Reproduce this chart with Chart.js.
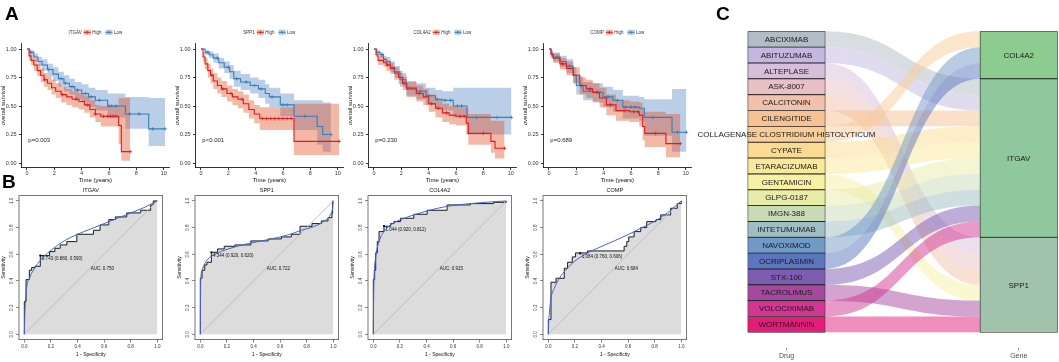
<!DOCTYPE html>
<html>
<head>
<meta charset="utf-8">
<title>Survival, ROC and drug-gene panels</title>
<script src="https://cdn.jsdelivr.net/npm/chart.js@4.4.1/dist/chart.umd.min.js"></script>
<style>
  html, body { margin: 0; padding: 0; background: #fff; }
  #fig { position: relative; width: 1059px; height: 362px; overflow: hidden; font-family: "Liberation Sans", Arial, sans-serif; }
  #fig canvas { position: absolute; }
  .tag { position: absolute; font-weight: bold; font-size: 19px; line-height: 19px; color: #000; }
</style>
</head>
<body>
<div id="fig">
  <canvas id="km0" width="174" height="190" style="left:0px;top:0px"></canvas>
  <canvas id="km1" width="174" height="190" style="left:173.7px;top:0px"></canvas>
  <canvas id="km2" width="174" height="190" style="left:347px;top:0px"></canvas>
  <canvas id="km3" width="174" height="190" style="left:522px;top:0px"></canvas>
  <canvas id="roc0" width="170" height="177" style="left:0px;top:185px"></canvas>
  <canvas id="roc1" width="170" height="177" style="left:175.5px;top:185px"></canvas>
  <canvas id="roc2" width="170" height="177" style="left:348.5px;top:185px"></canvas>
  <canvas id="roc3" width="170" height="177" style="left:523.5px;top:185px"></canvas>
  <canvas id="sankey" width="369" height="362" style="left:690px;top:0px"></canvas>
  <div class="tag" style="left:5px;top:4px">A</div>
  <div class="tag" style="left:2px;top:172px">B</div>
  <div class="tag" style="left:716px;top:4px">C</div>
</div>
<script>
// ---- panel A : Kaplan-Meier, rows are [time, survival, lower, upper]
const kmGenes = ["ITGAV", "SPP1", "COL4A2", "COMP"];
const kmPValues = ["p=0.003", "p<0.001", "p=0.230", "p=0.689"];
const timeTicks = [0, 2, 4, 6, 8, 10];
const survTicks = [0, 0.25, 0.5, 0.75, 1];

const itgavHigh = [[0,1,1,1],[0.15,0.94,0.9,0.98],[0.3,0.9,0.86,0.95],[0.5,0.86,0.81,0.91],[0.75,0.81,0.76,0.87],
  [1.0,0.77,0.71,0.83],[1.25,0.73,0.67,0.79],[1.5,0.7,0.64,0.76],[1.8,0.66,0.6,0.73],[2.1,0.63,0.57,0.7],
  [2.5,0.6,0.53,0.67],[2.9,0.58,0.51,0.65],[3.3,0.56,0.49,0.63],[3.8,0.54,0.47,0.61],[4.2,0.51,0.44,0.59],
  [4.6,0.47,0.4,0.55],[5.0,0.43,0.36,0.51],[5.4,0.41,0.32,0.5],[6.7,0.33,0.17,0.57],[6.9,0.1,0.02,0.57],[7.55,0.1,0.02,0.57]];
const itgavLow = [[0,1,1,1],[0.2,0.97,0.95,0.99],[0.5,0.93,0.89,0.96],[0.8,0.89,0.85,0.93],[1.1,0.86,0.81,0.91],
  [1.5,0.82,0.76,0.87],[1.9,0.78,0.72,0.84],[2.3,0.74,0.67,0.8],[2.7,0.7,0.63,0.77],[3.1,0.67,0.6,0.74],
  [3.5,0.64,0.56,0.71],[4.0,0.61,0.53,0.69],[4.5,0.58,0.49,0.66],[5.0,0.55,0.46,0.64],[5.9,0.5,0.4,0.61],
  [7.2,0.43,0.3,0.58],[8.9,0.3,0.15,0.57],[10.1,0.3,0.15,0.57]];
const spp1High = [[0,1,1,1],[0.15,0.93,0.89,0.97],[0.3,0.87,0.82,0.92],[0.5,0.81,0.75,0.87],[0.7,0.77,0.7,0.83],
  [0.9,0.72,0.65,0.79],[1.2,0.68,0.61,0.75],[1.5,0.65,0.58,0.72],[1.9,0.61,0.54,0.68],[2.3,0.58,0.51,0.65],
  [2.7,0.56,0.48,0.63],[3.1,0.52,0.44,0.6],[3.5,0.47,0.39,0.55],[3.9,0.43,0.35,0.51],[4.3,0.39,0.29,0.49],
  [6.8,0.19,0.07,0.52],[10.1,0.19,0.07,0.52]];
const spp1Low = [[0,1,1,1],[0.3,0.97,0.95,0.99],[0.6,0.95,0.92,0.98],[0.9,0.92,0.88,0.96],[1.3,0.88,0.83,0.92],
  [1.7,0.84,0.79,0.89],[2.1,0.8,0.74,0.86],[2.4,0.74,0.67,0.81],[2.9,0.71,0.64,0.78],[3.6,0.68,0.61,0.75],
  [4.2,0.65,0.57,0.73],[4.7,0.61,0.52,0.69],[5.0,0.58,0.49,0.66],[5.8,0.51,0.41,0.61],[6.8,0.41,0.29,0.55],
  [8.5,0.32,0.16,0.55],[8.9,0.25,0.1,0.53],[9.5,0.25,0.1,0.53]];
const col4a2High = [[0,1,1,1],[0.15,0.95,0.93,0.98],[0.3,0.9,0.86,0.94],[0.7,0.88,0.84,0.92],[0.9,0.86,0.81,0.9],
  [1.2,0.83,0.78,0.88],[1.5,0.79,0.73,0.84],[1.8,0.75,0.69,0.81],[2.1,0.7,0.64,0.76],[2.4,0.65,0.58,0.71],
  [3.1,0.61,0.54,0.68],[3.6,0.58,0.51,0.65],[4.0,0.52,0.45,0.6],[4.5,0.48,0.4,0.56],[5.0,0.44,0.36,0.52],
  [5.5,0.42,0.34,0.5],[6.0,0.41,0.33,0.49],[6.75,0.35,0.25,0.48],[6.9,0.26,0.16,0.43],[8.55,0.19,0.09,0.37],
  [8.85,0.13,0.04,0.37],[9.55,0.13,0.04,0.37]];
const col4a2Low = [[0,1,1,1],[0.2,0.97,0.95,0.99],[0.45,0.95,0.92,0.97],[0.7,0.91,0.88,0.94],[0.9,0.89,0.85,0.93],
  [1.2,0.84,0.8,0.89],[1.5,0.8,0.75,0.85],[1.9,0.73,0.67,0.79],[2.35,0.66,0.59,0.72],[3.1,0.63,0.56,0.7],
  [3.8,0.59,0.51,0.66],[4.5,0.56,0.48,0.64],[5.0,0.55,0.46,0.63],[5.8,0.5,0.4,0.66],[6.8,0.4,0.25,0.66],
  [10.05,0.4,0.25,0.66]];
const compHigh = [[0,1,1,1],[0.15,0.95,0.92,0.98],[0.3,0.92,0.88,0.96],[0.8,0.87,0.82,0.92],[1.28,0.83,0.77,0.89],
  [1.77,0.77,0.7,0.84],[2.25,0.68,0.6,0.75],[2.73,0.65,0.57,0.73],[3.2,0.62,0.54,0.7],[3.7,0.57,0.49,0.66],
  [4.2,0.51,0.42,0.6],[4.9,0.46,0.37,0.55],[5.9,0.45,0.36,0.54],[6.6,0.42,0.32,0.53],[6.85,0.32,0.2,0.47],
  [7.0,0.26,0.14,0.45],[8.55,0.17,0.05,0.43],[9.6,0.17,0.05,0.43]];
const compLow = [[0,1,1,1],[0.15,0.96,0.93,0.99],[0.3,0.93,0.89,0.97],[0.8,0.89,0.84,0.94],[1.28,0.85,0.79,0.91],
  [1.77,0.77,0.7,0.84],[2.0,0.68,0.6,0.76],[2.5,0.63,0.55,0.71],[3.2,0.62,0.53,0.7],[3.95,0.58,0.49,0.67],
  [4.67,0.55,0.45,0.64],[5.4,0.49,0.39,0.59],[6.6,0.48,0.37,0.58],[6.97,0.4,0.24,0.56],[9.0,0.27,0.1,0.65],
  [10.05,0.27,0.1,0.65]];

// censoring times (marks sit on the curve)
const itgavHighCens = [1.3, 2.6, 3.6, 4.4, 5.0, 5.6, 5.9, 6.1, 6.3, 6.5, 7.55];
const itgavLowCens = [0.3, 1.6, 2.5, 2.8, 3.3, 3.7, 4.3, 4.7, 5.3, 6.0, 6.2, 6.5, 7.5, 8.2, 9.2, 10.1];
const spp1HighCens = [0.8, 1.6, 2.2, 3.0, 4.5, 4.8, 5.1, 5.4, 5.7, 6.0, 6.3, 6.6, 10.1];
const spp1LowCens = [0.5, 1.2, 2.0, 2.6, 3.3, 3.9, 4.4, 5.2, 6.0, 6.3, 7.6, 9.5];
const col4a2HighCens = [1.0, 2.2, 3.3, 4.2, 4.7, 5.3, 6.3, 6.6, 8.0, 9.55];
const col4a2LowCens = [0.6, 1.5, 2.6, 3.4, 4.0, 4.6, 5.2, 5.6, 6.1, 6.4, 7.5, 9.0, 10.05];
const compHighCens = [1.0, 2.4, 3.0, 3.5, 4.5, 5.5, 6.2, 6.5, 7.8, 9.6];
const compLowCens = [0.6, 1.5, 2.3, 3.0, 3.6, 4.3, 5.0, 5.6, 6.0, 6.3, 7.6, 9.4, 10.05];

// ---- panel B : ROC, rows are [1 - specificity, sensitivity]
const rocGenes = ["ITGAV", "SPP1", "COL4A2", "COMP"];
const rocTicks = [0, 0.2, 0.4, 0.6, 0.8, 1.0];
const rocDiagonal = [[0, 0], [1, 1]];
const itgavRocStep = [[0,0],[0,0.245],[0.013,0.41],[0.038,0.48],[0.055,0.5],[0.08,0.51],[0.12,0.59],[0.19,0.62],
  [0.23,0.645],[0.27,0.67],[0.32,0.695],[0.395,0.75],[0.52,0.78],[0.57,0.82],[0.635,0.86],[0.685,0.88],
  [0.77,0.91],[0.875,0.93],[0.95,0.97],[0.97,1.0],[1,1]];
const spp1RocStep = [[0,0],[0,0.42],[0.013,0.48],[0.033,0.52],[0.05,0.54],[0.083,0.615],[0.13,0.64],[0.18,0.66],
  [0.26,0.67],[0.38,0.7],[0.51,0.715],[0.61,0.73],[0.685,0.75],[0.75,0.81],[0.84,0.83],[0.91,0.85],
  [0.96,0.875],[0.99,0.91],[0.995,1.0],[1,1]];
const col4a2RocStep = [[0,0],[0,0.41],[0.01,0.48],[0.018,0.61],[0.03,0.695],[0.043,0.77],[0.08,0.81],[0.13,0.83],
  [0.155,0.845],[0.205,0.87],[0.305,0.9],[0.405,0.93],[0.555,0.97],[0.73,0.98],[0.905,0.99],[1,1]];
const compRocStep = [[0,0],[0,0.11],[0.02,0.39],[0.058,0.42],[0.12,0.495],[0.145,0.54],[0.18,0.58],[0.205,0.61],
  [0.295,0.625],[0.57,0.66],[0.59,0.695],[0.605,0.73],[0.645,0.77],[0.695,0.8],[0.74,0.845],[0.81,0.86],
  [0.845,0.895],[0.92,0.945],[0.97,0.98],[1,1]];
const itgavRocSmooth = [[0,0],[0.004,0.15],[0.013,0.31],[0.043,0.43],[0.068,0.48],[0.1,0.53],[0.15,0.585],
  [0.2,0.63],[0.3,0.7],[0.4,0.75],[0.5,0.79],[0.6,0.83],[0.7,0.87],[0.8,0.91],[0.9,0.95],[1,1]];
const spp1RocSmooth = [[0,0],[0.001,0.2],[0.003,0.4],[0.013,0.48],[0.033,0.53],[0.058,0.565],[0.11,0.6],
  [0.21,0.64],[0.36,0.68],[0.51,0.71],[0.66,0.745],[0.76,0.78],[0.86,0.81],[0.94,0.855],[0.98,0.9],[0.995,0.95],[1,1]];
const col4a2RocSmooth = [[0,0],[0.002,0.25],[0.005,0.41],[0.018,0.58],[0.043,0.695],[0.08,0.77],[0.13,0.82],
  [0.205,0.86],[0.305,0.895],[0.405,0.925],[0.555,0.96],[0.73,0.98],[0.87,0.992],[1,1]];
const compRocSmooth = [[0,0],[0.002,0.08],[0.008,0.16],[0.02,0.27],[0.045,0.345],[0.083,0.42],[0.13,0.48],
  [0.195,0.545],[0.295,0.61],[0.38,0.65],[0.495,0.7],[0.595,0.745],[0.695,0.795],[0.795,0.845],[0.895,0.91],[1,1]];
const rocThrX = [0.12, 0.083, 0.08, 0.24];
const rocThrY = [0.59, 0.615, 0.812, 0.606];
const rocThrLabels = ["0.743 (0.880, 0.590)", "4.344 (0.920, 0.620)", "1.044 (0.920, 0.812)", "1.084 (0.760, 0.606)"];
const rocAucLabels = ["AUC: 0.750", "AUC: 0.722", "AUC: 0.915", "AUC: 0.684"];

// ---- panel C : drug -> gene alluvial
const drugs = ["ABCIXIMAB", "ABITUZUMAB", "ALTEPLASE", "ASK-8007", "CALCITONIN", "CILENGITIDE",
  "COLLAGENASE CLOSTRIDIUM HISTOLYTICUM", "CYPATE", "ETARACIZUMAB", "GENTAMICIN", "GLPG-0187", "IMGN-388",
  "INTETUMUMAB", "NAVOXIMOD", "OCRIPLASMIN", "STX-100", "TACROLIMUS", "VOLOCIXIMAB", "WORTMANNIN"];
const drugGene = ["ITGAV", "ITGAV", "SPP1", "SPP1", "SPP1", "ITGAV", "COL4A2", "ITGAV", "ITGAV", "SPP1",
  "ITGAV", "ITGAV", "ITGAV", "COL4A2", "COL4A2", "ITGAV", "SPP1", "ITGAV", "SPP1"];
const genes = ["COL4A2", "ITGAV", "SPP1"];
const axisNames = ["Drug", "Gene"];
const drugColors = ["#b2bcc6", "#c4b7df", "#d7bfdb", "#e9c0c4", "#f2c1ab", "#f7c293", "#f9cd98", "#fbdb92",
  "#fbe89c", "#f8f1a4", "#e8eca9", "#c9dab7", "#9ebec4", "#7199c6", "#5c75bf", "#7b5cb1", "#a5499f",
  "#d23592", "#e31c79"];
const geneColors = ["#8ccc8e", "#90c89d", "#a2c3ab"];

const FONT = '"Liberation Sans", Arial, sans-serif';
Chart.defaults.font.family = FONT;
Chart.defaults.color = "#333";

const RED = "#E41A1C", BLUE = "#377EB8";
const RED_BAND = "rgba(225, 70, 20, 0.38)", BLUE_BAND = "rgba(49, 106, 184, 0.33)";

function survAt(rows, t) {
  let s = 1;
  for (const r of rows) if (r[0] <= t) s = r[1];
  return s;
}

function groupSets(rows, cens, line, band) {
  const common = { stepped: true, pointRadius: 0, tension: 0 };
  return [
    { ...common, data: rows.map(r => ({ x: r[0], y: r[2] })), borderColor: "transparent", borderWidth: 1, fill: false, order: 5 },
    { ...common, data: rows.map(r => ({ x: r[0], y: r[3] })), borderColor: "transparent", borderWidth: 1, fill: "-1", backgroundColor: band, order: 5 },
    { ...common, data: rows.map(r => ({ x: r[0], y: r[1] })), borderColor: line, borderWidth: 1.1, fill: false, order: 2 },
    { data: cens.map(t => ({ x: t, y: survAt(rows, t) })), showLine: false, pointStyle: "cross",
      pointRadius: 1.8, pointBorderColor: line, pointBorderWidth: 0.8, order: 1 }
  ];
}

// legend row + p value, drawn on top of the KM plot
const kmDecor = {
  id: "kmDecor",
  afterDraw(chart, args, o) {
    const { ctx, chartArea: a, scales: { x, y } } = chart;
    ctx.save();
    ctx.font = "4.5px " + FONT;
    ctx.textBaseline = "middle";
    ctx.textAlign = "left";
    const icon = 7;
    const wT = ctx.measureText(o.gene).width, wH = ctx.measureText("High").width, wL = ctx.measureText("Low").width;
    const total = wT + 2 + icon + 1.5 + wH + 4 + icon + 1.5 + wL;
    let cx = (a.left + a.right) / 2 - total / 2;
    const cy = 32.3;
    ctx.fillStyle = "#333";
    ctx.fillText(o.gene, cx, cy);
    cx += wT + 2;
    [["High", RED, RED_BAND, wH], ["Low", BLUE, BLUE_BAND, wL]].forEach(([lab, col, band, w]) => {
      ctx.fillStyle = band;
      ctx.fillRect(cx, cy - 2.6, icon, 5.2);
      ctx.strokeStyle = col;
      ctx.lineWidth = 1;
      ctx.beginPath();
      ctx.moveTo(cx, cy); ctx.lineTo(cx + icon, cy);
      ctx.moveTo(cx + icon / 2, cy - 1.5); ctx.lineTo(cx + icon / 2, cy + 1.5);
      ctx.stroke();
      ctx.fillStyle = "#333";
      ctx.fillText(lab, cx + icon + 1.5, cy);
      cx += icon + 1.5 + w + 4;
    });
    ctx.font = "6px " + FONT;
    ctx.fillStyle = "#222";
    ctx.fillText(o.p, x.getPixelForValue(0.1), y.getPixelForValue(0.2));
    ctx.restore();
  }
};

const kmRows = [[itgavHigh, itgavLow], [spp1High, spp1Low], [col4a2High, col4a2Low], [compHigh, compLow]];
const kmCens = [[itgavHighCens, itgavLowCens], [spp1HighCens, spp1LowCens], [col4a2HighCens, col4a2LowCens], [compHighCens, compLowCens]];

kmGenes.forEach((gene, i) => {
  const axisGrid = { display: true, drawOnChartArea: false, drawTicks: true, tickLength: 2.5, color: "#000", lineWidth: 0.8 };
  new Chart(document.getElementById("km" + i), {
    type: "line",
    data: {
      datasets: [
        ...groupSets(kmRows[i][0], kmCens[i][0], RED, RED_BAND),
        ...groupSets(kmRows[i][1], kmCens[i][1], BLUE, BLUE_BAND)
      ]
    },
    options: {
      animation: false, responsive: false, devicePixelRatio: 1,
      layout: { padding: { top: 43.3, right: 4.5, bottom: 5.4, left: 0 } },
      plugins: { legend: { display: false }, tooltip: { enabled: false }, kmDecor: { gene: gene, p: kmPValues[i] } },
      scales: {
        x: {
          type: "linear", min: -0.4, max: 10.4,
          afterBuildTicks: s => { s.ticks = timeTicks.map(v => ({ value: v })); },
          afterFit: s => { s.height = 17; },
          grid: axisGrid, border: { display: true, color: "#000", width: 0.8 },
          ticks: { font: { size: 5.5 }, color: "#333", padding: 0.5, maxRotation: 0, autoSkip: false },
          title: { display: true, text: "Time (years)", font: { size: 6 }, color: "#111", padding: { top: 0, bottom: 1 } }
        },
        y: {
          type: "linear", min: -0.04, max: 1.05,
          afterBuildTicks: s => { s.ticks = survTicks.map(v => ({ value: v })); },
          afterFit: s => { s.width = 21.5; },
          grid: axisGrid, border: { display: true, color: "#000", width: 0.8 },
          ticks: { font: { size: 5.5 }, color: "#333", padding: 2.5, callback: v => v.toFixed(2) },
          title: { display: true, text: "overall survival", font: { size: 6 }, color: "#111", padding: { top: 0, bottom: 0 } }
        }
      }
    },
    plugins: [kmDecor]
  });
});

// box, rotated y labels, title, threshold and AUC text of the ROC plots
const rocDecor = {
  id: "rocDecor",
  afterDatasetsDraw(chart, args, o) {
    const { ctx, chartArea: a, scales: { x, y } } = chart;
    ctx.save();
    ctx.strokeStyle = "#555";
    ctx.lineWidth = 0.8;
    ctx.strokeRect(a.left, a.top, a.right - a.left, a.bottom - a.top);
    ctx.fillStyle = "#111";
    ctx.font = "4.5px " + FONT;
    ctx.textBaseline = "middle";
    ctx.textAlign = "left";
    ctx.fillText(o.thr, x.getPixelForValue(o.tx + 0.012), y.getPixelForValue(o.ty - 0.025));
    ctx.fillText(o.auc, x.getPixelForValue(0.5), y.getPixelForValue(0.49));
    ctx.textAlign = "center";
    ctx.fillStyle = "#333";
    rocTicks.forEach(v => {
      ctx.save();
      ctx.translate(a.left - 7.2, y.getPixelForValue(v));
      ctx.rotate(-Math.PI / 2);
      ctx.fillText(v.toFixed(1), 0, 0);
      ctx.restore();
    });
    ctx.font = "5.5px " + FONT;
    ctx.fillStyle = "#111";
    ctx.fillText(o.title, (a.left + a.right) / 2, a.top - 5.6);
    ctx.restore();
  }
};

const rocSteps = [itgavRocStep, spp1RocStep, col4a2RocStep, compRocStep];
const rocSmooths = [itgavRocSmooth, spp1RocSmooth, col4a2RocSmooth, compRocSmooth];

rocGenes.forEach((gene, i) => {
  const pts = rows => rows.map(r => ({ x: r[0], y: r[1] }));
  const tickGrid = { display: true, drawOnChartArea: false, drawTicks: true, tickLength: 3, color: "#555", lineWidth: 0.7 };
  new Chart(document.getElementById("roc" + i), {
    type: "line",
    data: {
      datasets: [
        { data: pts(rocSteps[i]), stepped: true, borderColor: "#1a1a1a", borderWidth: 1, fill: "origin",
          backgroundColor: "#dcdcdc", pointRadius: 0, order: 3 },
        { data: pts(rocDiagonal), borderColor: "#b8b8b8", borderWidth: 0.9, fill: false, pointRadius: 0, order: 2 },
        { data: pts(rocSmooths[i]), borderColor: "#4466cc", borderWidth: 1, cubicInterpolationMode: "monotone",
          fill: false, pointRadius: 0, order: 1 },
        { data: [{ x: rocThrX[i], y: rocThrY[i] }], showLine: false, pointRadius: 1.1,
          pointBackgroundColor: "#000", pointBorderWidth: 0, order: 0 }
      ]
    },
    options: {
      animation: false, responsive: false, devicePixelRatio: 1,
      layout: { padding: { top: 10.6, right: 7.4, bottom: 2.4, left: 0 } },
      plugins: { legend: { display: false }, tooltip: { enabled: false },
        rocDecor: { title: gene, thr: rocThrLabels[i], tx: rocThrX[i], ty: rocThrY[i], auc: rocAucLabels[i] } },
      scales: {
        x: {
          type: "linear", min: -0.04, max: 1.04,
          afterBuildTicks: s => { s.ticks = rocTicks.map(v => ({ value: v })); },
          afterFit: s => { s.height = 20; },
          grid: tickGrid, border: { display: false },
          ticks: { font: { size: 4.5 }, color: "#333", padding: 1.5, maxRotation: 0, autoSkip: false, callback: v => v.toFixed(1) },
          title: { display: true, text: "1 - Specificity", font: { size: 5 }, color: "#111", padding: { top: 0, bottom: 1.6 } }
        },
        y: {
          type: "linear", min: -0.04, max: 1.04,
          afterBuildTicks: s => { s.ticks = rocTicks.map(v => ({ value: v })); },
          afterFit: s => { s.width = 19; },
          grid: tickGrid, border: { display: false },
          ticks: { display: false },
          title: { display: true, text: "Sensitivity", font: { size: 5 }, color: "#111", padding: { top: 1, bottom: 0 } }
        }
      }
    },
    plugins: [rocDecor]
  });
});

// ---- alluvial: strata as floating bars, flows drawn between them
const geneCount = genes.map(g => drugGene.filter(d => d === g).length);
const geneStart = geneCount.map((c, k) => geneCount.slice(0, k).reduce((s, n) => s + n, 0));
const drugSlot = (() => {
  const used = genes.map(() => 0);
  return drugGene.map(g => {
    const k = genes.indexOf(g);
    return geneStart[k] + used[k]++;
  });
})();

function withAlpha(hex, a) {
  const n = parseInt(hex.slice(1), 16);
  return `rgba(${n >> 16}, ${(n >> 8) & 255}, ${n & 255}, ${a})`;
}

const alluvial = {
  id: "alluvial",
  beforeDatasetsDraw(chart) {
    const { ctx, scales: { y } } = chart;
    const dBar = chart.getDatasetMeta(0).data[0], gBar = chart.getDatasetMeta(1).data[0];
    const xL = dBar.x + dBar.width / 2, xR = gBar.x - gBar.width / 2, xm = (xL + xR) / 2;
    ctx.save();
    drugs.forEach((d, i) => {
      const a0 = y.getPixelForValue(i), b0 = y.getPixelForValue(i + 1);
      const a1 = y.getPixelForValue(drugSlot[i]), b1 = y.getPixelForValue(drugSlot[i] + 1);
      ctx.beginPath();
      ctx.moveTo(xL, a0);
      ctx.bezierCurveTo(xm, a0, xm, a1, xR, a1);
      ctx.lineTo(xR, b1);
      ctx.bezierCurveTo(xm, b1, xm, b0, xL, b0);
      ctx.closePath();
      ctx.fillStyle = withAlpha(drugColors[i], 0.5);
      ctx.fill();
    });
    ctx.restore();
  },
  afterDatasetsDraw(chart) {
    const { ctx } = chart;
    ctx.save();
    ctx.font = "8px " + FONT;
    ctx.fillStyle = "#1a1a1a";
    ctx.textAlign = "center";
    ctx.textBaseline = "middle";
    [[0, drugs], [1, genes]].forEach(([di, names]) => {
      chart.getDatasetMeta(di).data.forEach((bar, k) => {
        ctx.fillText(names[k], bar.x, (bar.y + bar.base) / 2 + 0.5);
      });
    });
    ctx.restore();
  }
};

new Chart(document.getElementById("sankey"), {
  type: "bar",
  data: {
    datasets: [
      { data: drugs.map((d, i) => ({ x: 1, y: [i, i + 1] })), backgroundColor: drugColors,
        borderColor: "#222", borderWidth: 0.8, borderSkipped: false, barThickness: 77.5, grouped: false },
      { data: genes.map((g, k) => ({ x: 2, y: [geneStart[k], geneStart[k] + geneCount[k]] })), backgroundColor: geneColors,
        borderColor: "#222", borderWidth: 0.8, borderSkipped: false, barThickness: 77.5, grouped: false }
    ]
  },
  options: {
    animation: false, responsive: false, devicePixelRatio: 1,
    layout: { padding: { top: 31.3, right: 0.8, bottom: 0, left: 3.6 } },
    plugins: { legend: { display: false }, tooltip: { enabled: false } },
    scales: {
      x: {
        type: "linear", min: 0.6, max: 2.17, offset: false,
        afterBuildTicks: s => { s.ticks = [{ value: 1 }, { value: 2 }]; },
        afterFit: s => { s.height = 13.8; },
        grid: { display: true, offset: false, drawOnChartArea: false, drawTicks: true, tickLength: 2, color: "#4d4d4d", lineWidth: 0.6 },
        border: { display: false },
        ticks: { font: { size: 7 }, color: "#4d4d4d", padding: 1.3, maxRotation: 0, autoSkip: false, callback: v => axisNames[v - 1] }
      },
      y: { type: "linear", min: 0, max: 20, reverse: true, display: false }
    }
  },
  plugins: [alluvial]
});
</script>
</body>
</html>
